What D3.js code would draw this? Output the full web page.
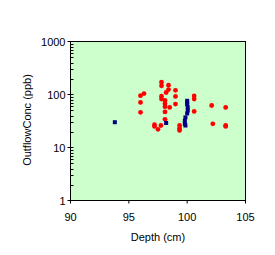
<!DOCTYPE html>
<html>
<head>
<meta charset="utf-8">
<script src="https://cdn.jsdelivr.net/npm/d3@7"></script>
<style>
  body { margin: 0; background: #fff; }
  text { font-family: Arial, "Liberation Sans", sans-serif; font-size: 11px; fill: #000; }
</style>
</head>
<body>
<svg></svg>
<script>
// data
const redDepth = [96.0, 96.0, 96.0, 96.3, 97.8, 97.8, 97.8, 97.8, 98.1, 98.1, 98.1, 98.1, 98.1,
  98.2, 98.4, 98.4, 98.5, 99.0, 99.0, 99.0, 100.6, 100.6, 100.6, 102.1, 102.2, 103.3, 103.3, 103.3,
  97.2, 97.2, 97.75, 97.5, 99.35, 99.35, 99.35];
const redConc = [95, 71, 46, 104, 171, 146, 93, 82, 77, 67, 59, 47, 34,
  109, 150, 124, 57, 120, 92, 66, 94, 82, 48, 62, 28, 57, 26, 25,
  27, 25, 26, 22, 26, 23, 21];
const blueDepth = [93.8, 98.2, 100.0, 100.0, 100.0, 100.05, 100.05, 100.0, 99.85, 99.8, 99.8, 99.85];
const blueConc = [30, 29, 76, 70, 65, 57, 50, 44, 37, 32, 28, 26];
const xTicks = [90, 95, 100, 105];
const yTicks = [1, 10, 100, 1000];

const svg = d3.select("svg").attr("width", 275).attr("height", 255);

const pLeft = 70.5, pRight = 245.5, pTop = 41.5, pBottom = 200.5;
const x = d3.scaleLinear().domain([90, 105]).range([pLeft, pRight]);
const y = d3.scaleLog().domain([1, 1000]).range([pBottom, pTop]);

// plot area
svg.append("rect")
  .attr("x", pLeft).attr("y", pTop)
  .attr("width", pRight - pLeft).attr("height", pBottom - pTop)
  .attr("fill", "#ccffcc").attr("stroke", "#000").attr("stroke-width", 1);

// y axis minor ticks (inside)
const minor = [];
for (let d = 1; d < 1000; d *= 10) for (let k = 2; k <= 9; k++) minor.push(d * k);
svg.selectAll(".ymin").data(minor).enter().append("line")
  .attr("x1", pLeft).attr("x2", pLeft + 3)
  .attr("y1", d => Math.round(y(d)) + 0.5).attr("y2", d => Math.round(y(d)) + 0.5)
  .attr("stroke", "#000");

// y axis major ticks + labels
svg.selectAll(".ymaj").data(yTicks).enter().append("line")
  .attr("x1", pLeft - 3).attr("x2", pLeft + 3)
  .attr("y1", d => y(d)).attr("y2", d => y(d))
  .attr("stroke", "#000");
svg.selectAll(".ylab").data(yTicks).enter().append("text")
  .attr("x", pLeft - 5).attr("y", d => y(d) + 4)
  .attr("text-anchor", "end")
  .text(d => d);

// x axis ticks + labels
svg.selectAll(".xt").data(xTicks).enter().append("line")
  .attr("x1", d => x(d)).attr("x2", d => x(d))
  .attr("y1", pBottom).attr("y2", pBottom + 3)
  .attr("stroke", "#000");
svg.selectAll(".xlab").data(xTicks).enter().append("text")
  .attr("x", d => x(d)).attr("y", 221)
  .attr("text-anchor", "middle")
  .text(d => d);

// axis titles
svg.append("text").attr("x", 158).attr("y", 241).attr("text-anchor", "middle").text("Depth (cm)");
svg.append("text")
  .attr("transform", "translate(31,120) rotate(-90)")
  .attr("text-anchor", "middle")
  .text("OutflowConc (ppb)");

// series
svg.selectAll(".red").data(redDepth).enter().append("circle")
  .attr("cx", d => x(d)).attr("cy", (d, i) => y(redConc[i]))
  .attr("r", 2.4).attr("fill", "#ff0000");

svg.selectAll(".blue").data(blueDepth).enter().append("rect")
  .attr("x", d => x(d) - 2).attr("y", (d, i) => y(blueConc[i]) - 2)
  .attr("width", 4).attr("height", 4)
  .attr("fill", "#000080");
</script>
</body>
</html>
